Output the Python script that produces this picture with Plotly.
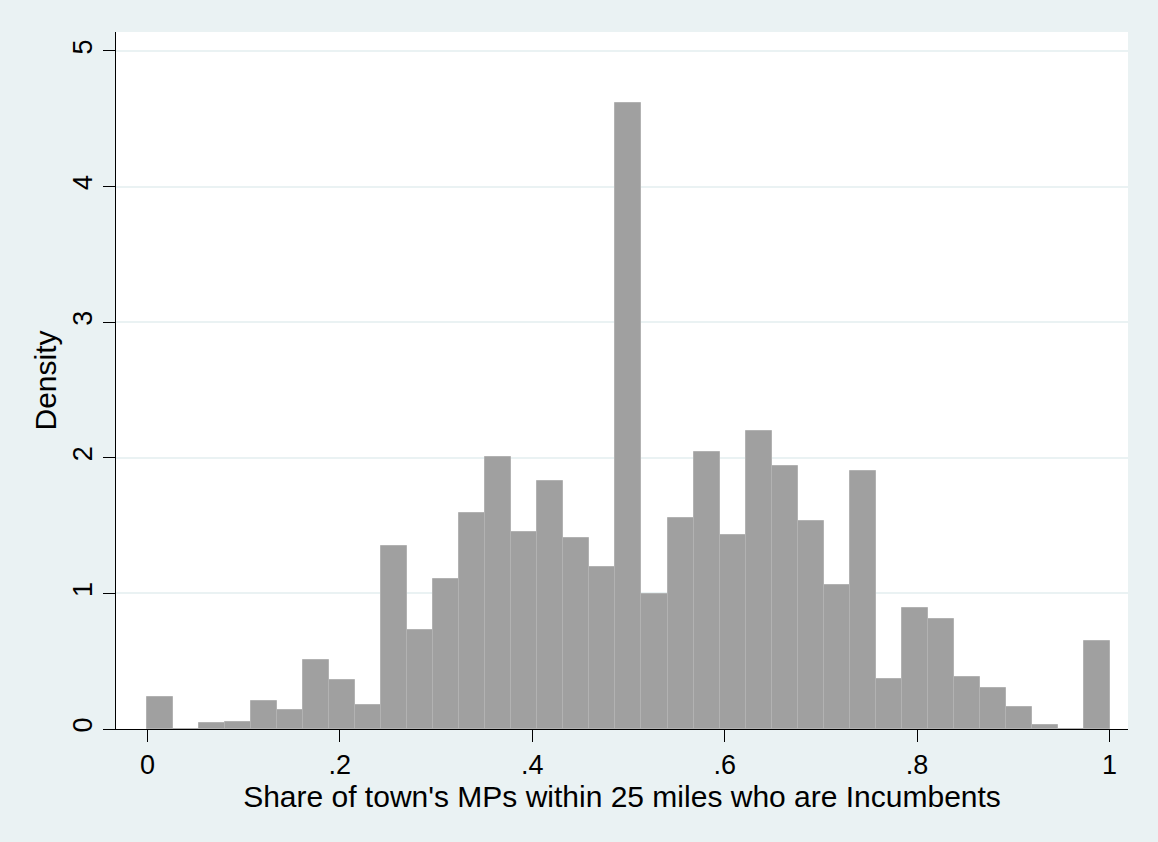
import plotly.graph_objects as go

# histogram of share of incumbents, 37 equal bins on [0, 1]
n_bins = 37
density = [0.238, 0.0, 0.042, 0.054, 0.21, 0.14, 0.509, 0.361, 0.177,
           1.35, 0.73, 1.104, 1.59, 2.004, 1.455, 1.829, 1.411, 1.192,
           4.614, 0.995, 1.554, 2.045, 1.431, 2.198, 1.94, 1.534, 1.062,
           1.903, 0.369, 0.89, 0.809, 0.381, 0.300, 0.162, 0.027, 0.0, 0.649]
x_ticks = [0, 0.2, 0.4, 0.6, 0.8, 1]
x_tick_labels = ["0", ".2", ".4", ".6", ".8", "1"]
y_ticks = [0, 1, 2, 3, 4, 5]

bin_width = 1 / n_bins
centers = [(i + 0.5) * bin_width for i in range(n_bins)]

BG = "#EAF2F3"
FAMILY = "Liberation Sans, Arial, sans-serif"
TICKFONT = dict(family=FAMILY, size=27, color="black")

fig = go.Figure()
fig.add_trace(go.Bar(
    x=centers, y=density, width=bin_width,
    marker=dict(color="#A0A0A0", line=dict(color="#B2B2B2", width=1)),
    showlegend=False,
))

fig.update_layout(
    width=1158, height=842,
    margin=dict(l=116, r=30, t=32, b=113),
    paper_bgcolor=BG, plot_bgcolor="white",
    font=dict(family=FAMILY, size=24.7, color="black"), bargap=0,
    xaxis=dict(
        range=[-0.0327, 1.0192], tickvals=x_ticks, ticktext=x_tick_labels,
        tickfont=TICKFONT,
        ticks="outside", ticklen=12, tickcolor="black", tickwidth=1,
        showgrid=False, zeroline=False, showline=True, linecolor="black", linewidth=1,
        title=dict(text="Share of town's MPs within 25 miles who are Incumbents", standoff=1),
    ),
    yaxis=dict(
        range=[0, 5.14], tickvals=y_ticks, tickangle=-90, tickfont=TICKFONT,
        ticks="outside", ticklen=12, tickcolor="black", tickwidth=1,
        showgrid=True, gridcolor=BG, gridwidth=2,
        zeroline=False, showline=True, linecolor="black", linewidth=1,
        title=dict(text="Density", standoff=2),
    ),
)

# drop the page's default body margin so the figure sits at the window corner
fig.write_html("out.html", config={"displayModeBar": False},
               post_script="document.body.style.margin='0';")
